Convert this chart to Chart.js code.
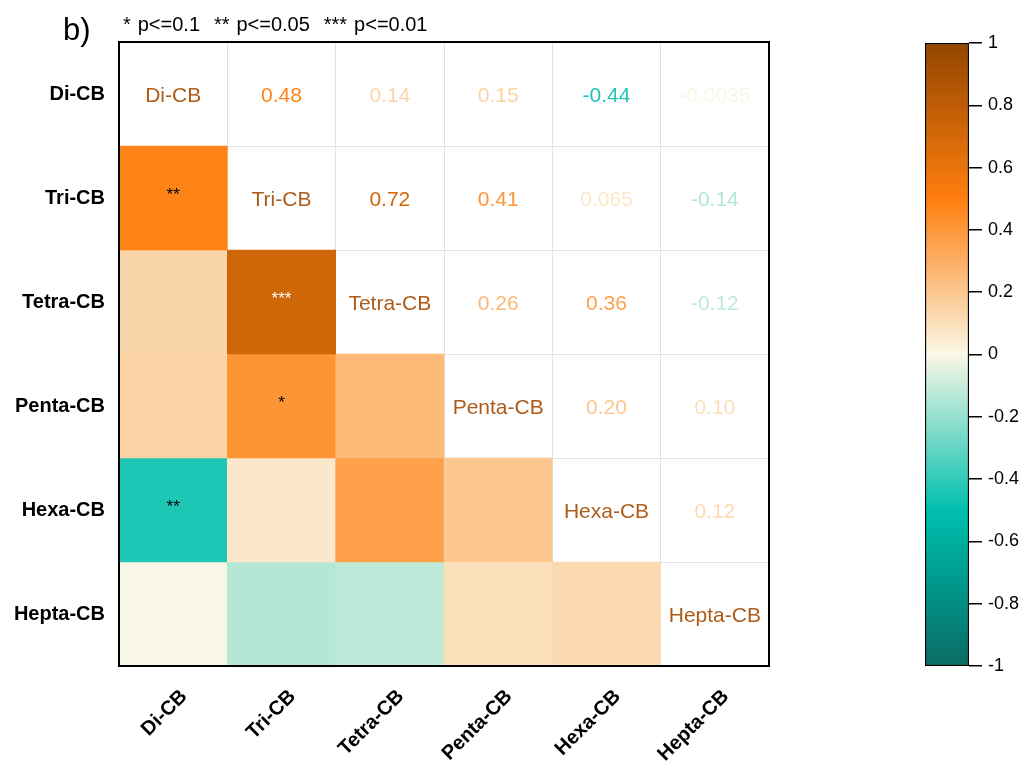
<!DOCTYPE html>
<html><head><meta charset="utf-8">
<script src="https://cdn.jsdelivr.net/npm/chart.js@4.4.1/dist/chart.umd.min.js"></script>
<style>
html,body{margin:0;padding:0;background:#fff;}
#wrap{position:relative;width:1022px;height:763px;overflow:hidden;font-family:"Liberation Sans",Arial,sans-serif;color:#000;}
#main{position:absolute;left:0;top:0;}
#cbar{position:absolute;left:900px;top:0;}
#tag{position:absolute;left:63px;top:12px;font-size:31px;line-height:36px;}
#note{position:absolute;left:123px;top:12px;font-size:20px;line-height:24px;white-space:pre;word-spacing:1.4px;}
</style></head>
<body><div id="wrap">
<canvas id="main" width="800" height="763"></canvas>
<canvas id="cbar" width="122" height="763"></canvas>
<div id="tag">b)</div>
<div id="note">* p&lt;=0.1  ** p&lt;=0.05  *** p&lt;=0.01</div>
</div>
<script>
// ---- data ----
const categories = ['Di-CB','Tri-CB','Tetra-CB','Penta-CB','Hexa-CB','Hepta-CB'];
const rDi    = [1, 0.48, 0.14, 0.15, -0.44, -0.0035];
const rTri   = [0.48, 1, 0.72, 0.41, 0.065, -0.14];
const rTetra = [0.14, 0.72, 1, 0.26, 0.36, -0.12];
const rPenta = [0.15, 0.41, 0.26, 1, 0.20, 0.10];
const rHexa  = [-0.44, 0.065, 0.36, 0.20, 1, 0.12];
const rHepta = [-0.0035, -0.14, -0.12, 0.10, 0.12, 1];
const pDi    = ['', '**', '', '', '**', ''];
const pTri   = ['**', '', '***', '*', '', ''];
const pTetra = ['', '***', '', '', '', ''];
const pPenta = ['', '*', '', '', '', ''];
const pHexa  = ['**', '', '', '', '', ''];
const pHepta = ['', '', '', '', '', ''];
const colorbarTicks = [-1, -0.8, -0.6, -0.4, -0.2, 0, 0.2, 0.4, 0.6, 0.8, 1];
const cmapStops = [[-1,'#0a6c64'],[-0.75,'#00968a'],[-0.5,'#00bfae'],[0,'#faf7e6'],[0.5,'#ff7f0e'],[1,'#934600']];

const corr = [rDi, rTri, rTetra, rPenta, rHexa, rHepta];
const sig = [pDi, pTri, pTetra, pPenta, pHexa, pHepta];

function hex2rgb(h){return [parseInt(h.substr(1,2),16),parseInt(h.substr(3,2),16),parseInt(h.substr(5,2),16)];}
function cmap(v){
  v = Math.max(-1, Math.min(1, v));
  for (let i = 0; i < cmapStops.length - 1; i++) {
    const [a, ca] = cmapStops[i], [b, cb] = cmapStops[i+1];
    if (v >= a && v <= b) {
      const t = (v - a) / (b - a), A = hex2rgb(ca), B = hex2rgb(cb);
      const c = A.map((x, k) => Math.round(x + (B[k] - x) * t));
      return 'rgb(' + c.join(',') + ')';
    }
  }
  return cmapStops[cmapStops.length-1][1];
}

const FONT = '"Liberation Sans", Arial, sans-serif';

const datasets = corr.map((row, r) => ({
  label: categories[r],
  data: row.map(() => [r, r + 1]),
  backgroundColor: row.map((v, c) => c < r ? cmap(v) : 'rgba(255,255,255,0)'),
  borderWidth: 0,
  barPercentage: 1,
  categoryPercentage: 1,
  yAxisID: 'y'
}));

const cellText = {
  id: 'cellText',
  afterDatasetsDraw(chart) {
    const ctx = chart.ctx, xs = chart.scales.x, ys = chart.scales.y;
    ctx.save();
    ctx.textAlign = 'center';
    ctx.textBaseline = 'middle';
    corr.forEach((row, r) => {
      row.forEach((v, c) => {
        const x = xs.getPixelForValue(c);
        const y = ys.getPixelForValue(r + 0.5);
        if (r === c) {
          ctx.font = '21px ' + FONT;
          ctx.fillStyle = '#ad5b19';
          ctx.fillText(categories[r], x, y + 2);
        } else if (c > r) {
          ctx.font = '21px ' + FONT;
          ctx.fillStyle = cmap(v);
          ctx.fillText(v.toPrecision(2), x, y + 2);
        } else if (sig[r][c]) {
          ctx.font = '17px ' + FONT;
          ctx.fillStyle = v > 0.65 ? '#ffffff' : '#000000';
          ctx.fillText(sig[r][c], x, y - 3);
        }
      });
    });
    const a = chart.chartArea;
    ctx.lineWidth = 2;
    ctx.strokeStyle = '#000';
    ctx.strokeRect(a.left, a.top, a.right - a.left, a.bottom - a.top);
    ctx.restore();
  }
};

new Chart(document.getElementById('main'), {
  type: 'bar',
  data: { labels: categories, datasets },
  options: {
    responsive: false,
    animation: false,
    layout: { padding: { top: 42, right: 31, left: 0, bottom: 0 } },
    plugins: { legend: { display: false }, tooltip: { enabled: false } },
    scales: {
      x: {
        stacked: true,
        grid: { color: '#e3e3e3', offset: true, drawTicks: false },
        border: { display: false },
        ticks: { color: '#000', font: { family: FONT, size: 20, weight: 'bold' }, maxRotation: 45, minRotation: 45, padding: 19, labelOffset: 11 },
        afterFit: s => { s.height = 97; }
      },
      y: {
        type: 'linear', position: 'left', min: 0, max: 6, reverse: true, stacked: false,
        ticks: { display: false, stepSize: 1 },
        grid: { color: '#e3e3e3', drawTicks: false },
        border: { display: false },
        afterFit: s => { s.width = 0; }
      },
      yl: {
        type: 'category', position: 'left', labels: categories, offset: true,
        grid: { display: false, drawTicks: false },
        border: { display: false },
        ticks: { color: '#000', font: { family: FONT, size: 20, weight: 'bold' }, padding: 14 },
        afterFit: s => { s.width = 119; }
      }
    }
  },
  plugins: [cellText]
});

new Chart(document.getElementById('cbar'), {
  type: 'bar',
  data: {
    labels: ['r'],
    datasets: [{
      data: [[colorbarTicks[0], colorbarTicks[colorbarTicks.length - 1]]],
      backgroundColor: (ctx) => {
        const ch = ctx.chart, a = ch.chartArea;
        if (!a) return '#fff';
        const ys = ch.scales.y;
        const g = ch.ctx.createLinearGradient(0, ys.getPixelForValue(-1), 0, ys.getPixelForValue(1));
        cmapStops.forEach(([v, c]) => g.addColorStop((v + 1) / 2, c));
        return g;
      },
      borderColor: '#000',
      borderWidth: 1.5,
      borderSkipped: false,
      barPercentage: 1,
      categoryPercentage: 1
    }]
  },
  options: {
    responsive: false,
    animation: false,
    layout: { padding: { top: 43, left: 25, right: 0, bottom: 97 } },
    plugins: { legend: { display: false }, tooltip: { enabled: false } },
    scales: {
      x: { display: false },
      y: {
        position: 'right', min: -1, max: 1,
        afterBuildTicks: s => { s.ticks = colorbarTicks.map(v => ({ value: v })); },
        ticks: { color: '#000', font: { family: FONT, size: 18 }, padding: 6, callback: v => String(Math.round(v * 10) / 10) },
        grid: { drawOnChartArea: false, drawTicks: true, tickLength: 13, color: '#000', lineWidth: 1.5 },
        border: { display: false },
        afterFit: s => { s.width = 53; }
      }
    }
  }
});
</script>
</body></html>
